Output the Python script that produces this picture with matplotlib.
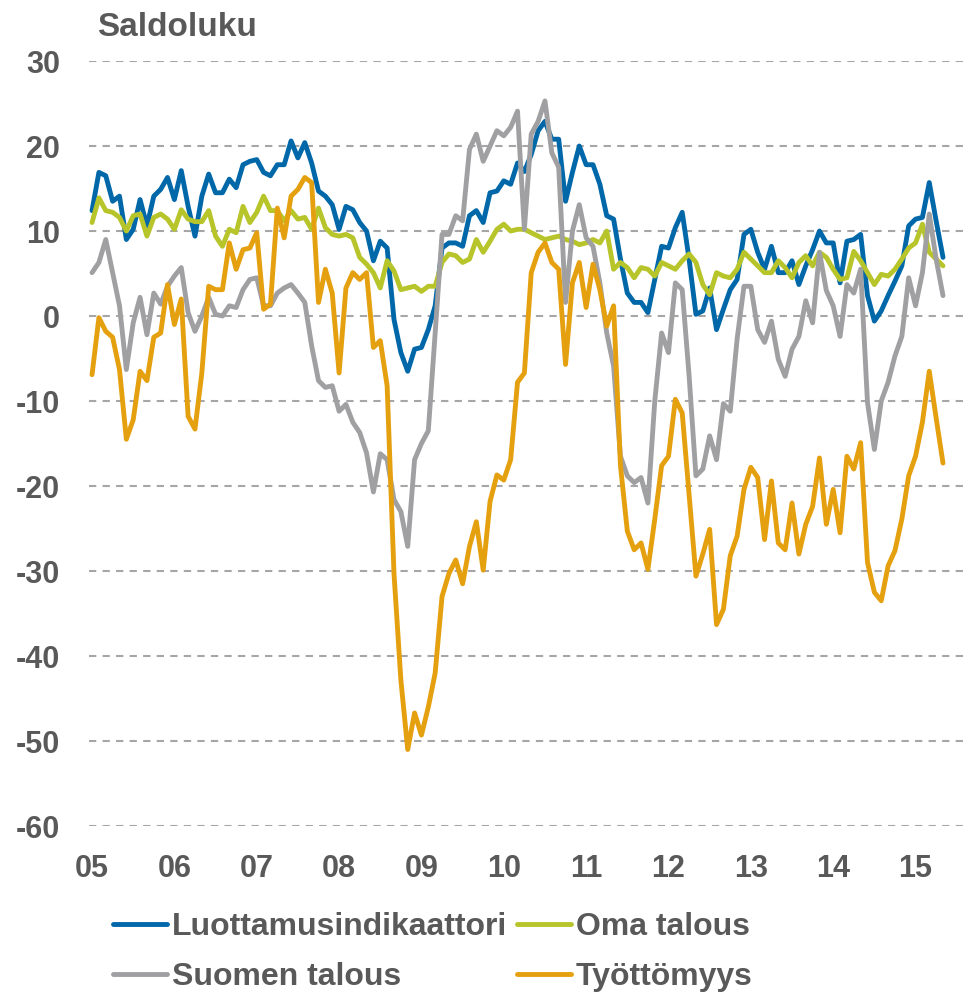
import numpy as np
import matplotlib
matplotlib.use("Agg")
import matplotlib.pyplot as plt

plt.rcParams['font.family'] = ['Liberation Sans', 'DejaVu Sans']
plt.rcParams['font.weight'] = 'bold'
plt.rcParams['axes.unicode_minus'] = False

# kuukausittaiset saldoluvut 1/2005 - 5/2015
luottamus = [12.4, 16.9, 16.5, 13.5, 14.1, 9.0, 10.2, 13.7, 10.6, 14.1, 14.9, 16.3,
             13.7, 17.1, 12.9, 9.4, 14.1, 16.7, 14.5, 14.5, 16.1, 15.1,
             17.8, 18.2, 18.4, 16.9, 16.5, 17.8, 17.8, 20.6, 18.6, 20.4, 18.0, 14.7,
             14.1, 13.1, 10.2, 12.9, 12.5, 11.0, 10.0, 6.5, 8.8, 8.0,
             -0.4, -4.3, -6.5, -3.9, -3.7, -1.6, 1.2, 8.0, 8.6, 8.6, 8.2, 11.8,
             12.4, 11.0, 14.5, 14.7, 15.9, 15.5, 18.0, 17.0,
             19.0, 21.8, 22.9, 20.8, 20.8, 13.5, 16.9, 20.0, 17.8, 17.8, 15.5, 11.8,
             11.4, 6.7, 2.7, 1.6, 1.6, 0.4, 4.3, 8.2, 8.0, 10.4, 12.2,
             6.7, 0.2, 0.6, 3.3, -1.6, 0.8, 3.1, 4.3, 9.6, 10.2, 7.5, 5.5,
             8.2, 5.1, 5.1, 6.5, 3.7, 5.9, 7.8, 10.0, 8.6, 8.6, 3.9, 8.8,
             9.0, 9.6, 2.4, -0.6, 0.6, 2.4, 4.1, 5.9, 10.6, 11.4, 11.6, 15.7,
             11.2, 6.9]

oma_talous = [11.0, 13.9, 12.4, 12.2, 11.6, 10.0, 11.8, 12.0, 9.4, 11.6, 12.0, 11.4,
              10.2, 12.5, 11.4, 11.1, 11.1, 12.4, 9.4, 8.2, 10.2, 9.8,
              12.9, 11.0, 12.2, 14.1, 12.4, 12.4, 11.2, 12.4, 11.4, 11.6, 10.2, 12.7,
              10.4, 9.6, 9.4, 9.6, 9.2, 6.9, 6.1, 5.1, 3.3, 6.5,
              5.3, 3.1, 3.3, 3.5, 2.9, 3.5, 3.5, 6.3, 7.3, 7.1, 6.3, 6.7,
              9.0, 7.5, 8.8, 10.2, 10.8, 10.0, 10.2, 10.2,
              9.8, 9.4, 9.0, 9.2, 9.4, 9.0, 8.8, 8.4, 8.6, 9.0, 8.6, 10.0,
              5.5, 6.3, 5.7, 4.5, 5.7, 5.5, 4.7, 6.3, 5.9, 5.5, 6.5, 7.3,
              6.3, 3.7, 2.5, 5.1, 4.7, 4.5, 5.5, 7.5, 6.7, 5.9, 5.1, 5.1,
              6.5, 5.7, 4.5, 6.3, 7.1, 5.9, 7.5, 6.9, 5.5, 4.3, 4.5, 7.6,
              6.5, 5.1, 3.7, 4.9, 4.7, 5.5, 6.7, 8.0, 8.6, 10.8, 7.5, 6.7,
              5.9]

suomen_talous = [5.1, 6.3, 9.0, 5.1, 1.2, -6.3, -0.8, 2.2, -2.2, 2.7, 1.4, 3.5,
                 4.7, 5.7, 0.4, -1.8, 0.0, 2.2, 0.2, 0.0, 1.2, 1.0,
                 3.1, 4.3, 4.5, 1.2, 1.2, 2.7, 3.3, 3.7, 2.7, 1.6, -3.5, -7.6,
                 -8.4, -8.2, -11.2, -10.4, -12.5, -13.7, -16.1, -20.7, -16.2, -16.9,
                 -21.6, -23.0, -27.1, -16.9, -15.0, -13.5, -2.0, 9.6, 9.6, 11.8, 11.2, 19.6,
                 21.4, 18.2, 20.0, 21.8, 21.2, 22.2, 24.1, 10.2,
                 21.4, 22.9, 25.3, 19.2, 17.5, 1.6, 10.0, 13.1, 9.2, 8.2, 3.9, -2.0,
                 -5.9, -16.5, -18.8, -19.6, -19.0, -22.0, -10.0, -2.0, -4.3, 3.9, 3.1,
                 -7.0, -18.8, -18.0, -14.1, -16.9, -10.3, -11.2, -2.7, 3.5, 3.5, -1.6, -3.1,
                 -0.6, -5.1, -7.1, -3.9, -2.4, 1.8, -0.8, 7.5, 3.0, 1.2, -2.4, 3.7,
                 2.7, 5.5, -10.2, -15.7, -10.0, -7.8, -4.7, -2.4, 4.5, 1.2, 5.1, 12.0,
                 6.7, 2.4]

tyottomyys = [-6.9, -0.2, -1.8, -2.5, -6.3, -14.5, -12.2, -6.5, -7.6, -2.5, -2.0, 3.7,
              -1.0, 2.0, -11.8, -13.3, -6.7, 3.5, 3.1, 3.1, 8.6, 5.5,
              7.8, 8.0, 9.8, 0.8, 1.4, 12.7, 9.2, 14.1, 14.9, 16.3, 15.7, 1.6,
              5.5, 2.7, -6.7, 3.3, 5.1, 4.3, 5.1, -3.7, -2.9, -8.2,
              -30.3, -42.8, -51.0, -46.7, -49.3, -46.0, -42.0, -33.0, -30.3, -28.7, -31.5, -27.1,
              -24.2, -29.9, -21.8, -18.7, -19.3, -16.9, -7.8, -6.7,
              5.1, 7.5, 8.6, 6.3, 5.5, -5.7, 3.9, 6.3, 1.0, 6.1, 3.1, -1.2,
              1.2, -17.6, -25.3, -27.5, -26.7, -29.8, -23.9, -17.6, -16.5, -9.8, -11.4,
              -21.0, -30.6, -28.0, -25.1, -36.3, -34.5, -28.2, -25.9, -20.4, -17.8, -19.0, -26.3,
              -19.4, -26.7, -27.5, -22.0, -28.0, -24.5, -22.4, -16.7, -24.5, -20.4, -25.5, -16.5,
              -18.0, -14.9, -29.0, -32.5, -33.5, -29.4, -27.6, -23.9, -18.8, -16.5, -12.5, -6.5,
              -12.0, -17.3]

vuodet = ['05', '06', '07', '08', '09', '10', '11', '12', '13', '14', '15']
sarjat = ['Luottamusindikaattori', 'Oma talous', 'Suomen talous', 'Työttömyys']
varit = ['#0068a9', '#b7c52b', '#a0a0a2', '#e5a00f']

kk = np.arange(len(luottamus))
tekstivari = '#595959'

fig = plt.figure(figsize=(9.75, 9.92), dpi=100)
ax = fig.add_axes([0.0913, 0.1673, 0.8984, 0.7712])

viivat = []
for arvot, nimi, vari in zip([luottamus, oma_talous, suomen_talous, tyottomyys], sarjat, varit):
    l, = ax.plot(kk, arvot, color=vari, linewidth=3.5, label=nimi,
                 solid_joinstyle='round', solid_capstyle='round')
    viivat.append(l)

ax.set_ylim(-60, 30)
ax.set_xlim(-0.44, 127.2)
ax.set_yticks(np.arange(-60, 31, 10))
ax.set_xticks(np.arange(0, 121, 12))
ax.set_xticklabels(vuodet)

ax.grid(axis='y', color='#a6a6a6', linewidth=1.5, linestyle=(0, (3.5, 3)))
ax.set_axisbelow(True)
for s in ax.spines.values():
    s.set_visible(False)

ax.tick_params(axis='both', length=0, labelsize=22, labelcolor=tekstivari)
ax.tick_params(axis='y', pad=21)
ax.tick_params(axis='x', pad=20)

fig.text(97 / 975, 1 - 27 / 992, 'Saldoluku', fontsize=24, fontweight='bold',
         color=tekstivari, ha='left', va='center')

# legenda riveittäin: 1. rivi Luottamus + Oma talous, 2. rivi Suomen talous + Työttömyys
jarj = [0, 2, 1, 3]
fig.legend([viivat[i] for i in jarj], [sarjat[i] for i in jarj],
           loc='upper left', bbox_to_anchor=(113 / 975, 1 - 912 / 992), ncol=2,
           frameon=False, fontsize=23, handlelength=1.7, handletextpad=0.15,
           columnspacing=0.3, labelspacing=0.62, borderpad=0, borderaxespad=0,
           labelcolor=tekstivari)

fig.savefig('out.png', dpi=100)
